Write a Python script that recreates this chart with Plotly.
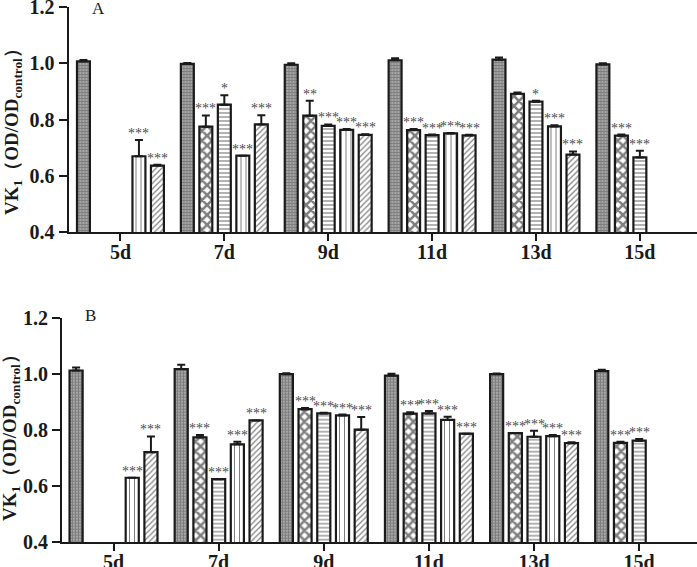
import plotly.graph_objects as go

days = ["5d", "7d", "9d", "11d", "13d", "15d"]
ytick_vals = [0.4, 0.6, 0.8, 1.0, 1.2]

# Panel A
a_s1 = [1.007, 0.998, 0.995, 1.011, 1.013, 0.996]
a_s1_err = [0.005, 0.003, 0.005, 0.007, 0.008, 0.004]
a_s2 = [None, 0.775, 0.814, 0.763, 0.892, 0.743]
a_s2_err = [0, 0.040, 0.053, 0.004, 0.004, 0.004]
a_s3 = [None, 0.853, 0.778, 0.745, 0.864, 0.666]
a_s3_err = [0, 0.034, 0.005, 0.002, 0.003, 0.024]
a_s4 = [0.670, 0.672, 0.764, 0.751, 0.776, None]
a_s4_err = [0.058, 0, 0.003, 0.002, 0.004, 0]
a_s5 = [0.637, 0.783, 0.746, 0.744, 0.676, None]
a_s5_err = [0.003, 0.033, 0.002, 0.002, 0.011, 0]
a_s1_sig = ["", "", "", "", "", ""]
a_s2_sig = ["", "***", "**", "***", "", "***"]
a_s3_sig = ["", "*", "***", "***", "*", "***"]
a_s4_sig = ["***", "***", "***", "***", "***", ""]
a_s5_sig = ["***", "***", "***", "***", "***", ""]

# Panel B
b_s1 = [1.012, 1.017, 0.999, 0.994, 0.999, 1.010]
b_s1_err = [0.011, 0.015, 0.003, 0.006, 0.002, 0.005]
b_s2 = [None, 0.774, 0.874, 0.858, 0.789, 0.754]
b_s2_err = [0, 0.008, 0.004, 0.005, 0, 0.004]
b_s3 = [None, 0.625, 0.859, 0.859, 0.776, 0.762]
b_s3_err = [0, 0, 0.002, 0.009, 0.021, 0.006]
b_s4 = [0.630, 0.749, 0.852, 0.836, 0.778, None]
b_s4_err = [0, 0.009, 0.003, 0.011, 0.004, 0]
b_s5 = [0.721, 0.834, 0.801, 0.787, 0.753, None]
b_s5_err = [0.056, 0, 0.045, 0, 0.003, 0]
b_s1_sig = ["", "", "", "", "", ""]
b_s2_sig = ["", "***", "***", "***", "***", "***"]
b_s3_sig = ["", "***", "***", "***", "***", "***"]
b_s4_sig = ["***", "***", "***", "***", "***", ""]
b_s5_sig = ["***", "***", "***", "***", "***", ""]

patterns = [
    dict(shape=".", size=3, solidity=0.8, fgcolor="black", bgcolor="white"),
    dict(shape="x", size=7, solidity=0.6, fgcolor="black", bgcolor="white"),
    dict(shape="-", size=4, solidity=0.3, fgcolor="black", bgcolor="white"),
    dict(shape="|", size=5, solidity=0.2, fgcolor="black", bgcolor="white"),
    dict(shape="/", size=4, solidity=0.3, fgcolor="black", bgcolor="white"),
]

BARGAP = 0.11
GROUPGAP = 0.3
NSER = 5
slot = (1 - BARGAP) / NSER
xs = list(range(len(days)))
FONT = "Liberation Serif, Times New Roman, serif"

fig = go.Figure()

panels = [
    ("x", "y", [a_s1, a_s2, a_s3, a_s4, a_s5],
     [a_s1_err, a_s2_err, a_s3_err, a_s4_err, a_s5_err],
     [a_s1_sig, a_s2_sig, a_s3_sig, a_s4_sig, a_s5_sig]),
    ("x2", "y2", [b_s1, b_s2, b_s3, b_s4, b_s5],
     [b_s1_err, b_s2_err, b_s3_err, b_s4_err, b_s5_err],
     [b_s1_sig, b_s2_sig, b_s3_sig, b_s4_sig, b_s5_sig]),
]

for xa, ya, vals, errs, sigs in panels:
    for j in range(NSER):
        fig.add_trace(go.Bar(
            x=xs, y=vals[j], xaxis=xa, yaxis=ya,
            marker=dict(color="white", pattern=patterns[j],
                        line=dict(color="#1a1a1a", width=2.2)),
            error_y=dict(type="data", array=errs[j], arrayminus=[0] * len(days),
                         symmetric=False, color="#1a1a1a", thickness=2, width=4),
            showlegend=False,
        ))
    for j in range(NSER):
        for i in range(len(days)):
            if sigs[j][i] and vals[j][i] is not None:
                fig.add_annotation(
                    x=i + (j - (NSER - 1) / 2) * slot, y=vals[j][i] + errs[j][i],
                    xref=xa, yref=ya, text=sigs[j][i], showarrow=False,
                    xanchor="center", yanchor="bottom", yshift=-3,
                    font=dict(family=FONT, size=14, color="#4d4d4d"))

W, H = 697, 567
ax_common = dict(showline=True, linewidth=2, linecolor="#1a1a1a",
                 ticks="outside", tickwidth=2, tickcolor="#1a1a1a",
                 showgrid=False, zeroline=False, automargin=False,
                 ticklabeloverflow="allow",
                 tickfont=dict(family=FONT, size=20, color="#1a1a1a"))

fig.update_layout(
    width=W, height=H,
    margin=dict(l=0, r=0, t=0, b=0, autoexpand=False),
    paper_bgcolor="white", plot_bgcolor="white",
    barmode="group", bargap=BARGAP, bargroupgap=GROUPGAP,
    xaxis=dict(domain=[68.5 / W, 1], range=[-0.5, 5.55], tickvals=xs,
               ticktext=["<b>%s</b>" % d for d in days], ticklen=7,
               ticklabelstandoff=-6, anchor="y", **ax_common),
    yaxis=dict(domain=[1 - 232.3 / H, 1 - 7 / H], range=[0.4, 1.2],
               tickvals=ytick_vals,
               ticktext=["<b>%.1f</b>" % v for v in ytick_vals], ticklen=8,
               anchor="x", **ax_common),
    xaxis2=dict(domain=[62 / W, 1], range=[-0.49, 5.55], tickvals=xs,
                ticktext=["<b>%s</b>" % d for d in days], ticklen=7,
                ticklabelstandoff=-6, anchor="y2", **ax_common),
    yaxis2=dict(domain=[1 - 542.3 / H, 1 - 317.7 / H], range=[0.4, 1.2],
                tickvals=ytick_vals,
                ticktext=["<b>%.1f</b>" % v for v in ytick_vals], ticklen=8,
                anchor="x2", **ax_common),
)

title = "<b>VK<sub>1</sub>（OD/OD<sub>control</sub>）</b>"
fig.add_annotation(text=title, textangle=-90, xref="paper", yref="paper",
                   x=13 / W, y=1 - 127 / H, xanchor="center", yanchor="middle",
                   showarrow=False, font=dict(family=FONT, size=19, color="#1a1a1a"))
fig.add_annotation(text=title, textangle=-90, xref="paper", yref="paper",
                   x=11 / W, y=1 - 433 / H, xanchor="center", yanchor="middle",
                   showarrow=False, font=dict(family=FONT, size=19, color="#1a1a1a"))
fig.add_annotation(text="A", xref="paper", yref="paper", x=98 / W, y=1 - 8 / H,
                   xanchor="center", yanchor="middle", showarrow=False,
                   font=dict(family=FONT, size=17, color="#1a1a1a"))
fig.add_annotation(text="B", xref="paper", yref="paper", x=90 / W, y=1 - 315 / H,
                   xanchor="center", yanchor="middle", showarrow=False,
                   font=dict(family=FONT, size=17, color="#1a1a1a"))

fig.write_html("out.html", config={"displayModeBar": False},
               post_script="document.body.style.margin='0';document.body.style.overflow='hidden';")
